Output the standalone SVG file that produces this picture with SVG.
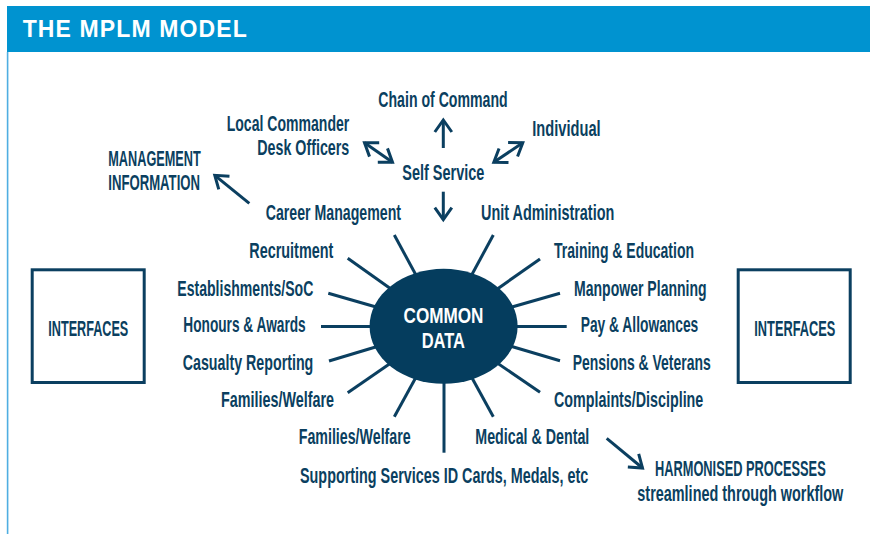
<svg xmlns="http://www.w3.org/2000/svg" width="870" height="534" viewBox="0 0 870 534">
<style>
.t{font-family:"Liberation Sans Narrow","Liberation Sans",Arial,sans-serif;font-weight:bold;font-size:21.5px;fill:#0B3F60}
.w{font-family:"Liberation Sans","Noto Sans",Arial,sans-serif;font-weight:bold;fill:#ffffff}
.ray{stroke:#0B3F60;stroke-width:3;fill:none}
.arr{stroke:#0B3F60;stroke-width:3;fill:none}
.box{fill:#ffffff;stroke:#0B3F60;stroke-width:3}
</style>
<defs>
<marker id="ah" viewBox="-16 -12 20 24" markerWidth="20" markerHeight="24" refX="0" refY="0" orient="auto-start-reverse" markerUnits="userSpaceOnUse">
<path d="M-12,-8.5 L0,0 L-12,8.5" fill="none" stroke="#0B3F60" stroke-width="3" stroke-linejoin="miter"/>
</marker>
</defs>
<rect x="0" y="0" width="870" height="534" fill="#ffffff"/>
<g id="header">
<rect x="7" y="6" width="863" height="46" fill="#0093D0"/>
<line x1="7.6" y1="52" x2="7.6" y2="534" stroke="#4FAEE2" stroke-width="1.6"/>
<text class="w" x="22.7" y="37.3" font-size="23" textLength="224" lengthAdjust="spacing">THE MPLM MODEL</text>
</g>
<g id="connectors">
<line class="ray" x1="394.3" y1="235" x2="443.8" y2="326.5"/>
<line class="ray" x1="347.7" y1="258.3" x2="443.8" y2="326.5"/>
<line class="ray" x1="328.3" y1="293.3" x2="443.8" y2="326.5"/>
<line class="ray" x1="321" y1="326.6" x2="443.8" y2="326.6"/>
<line class="ray" x1="329" y1="361" x2="443.8" y2="326.5"/>
<line class="ray" x1="347.7" y1="392.7" x2="443.8" y2="326.5"/>
<line class="ray" x1="394.3" y1="416.7" x2="443.8" y2="326.5"/>
<line class="ray" x1="444" y1="452.7" x2="444" y2="326.5"/>
<line class="ray" x1="493.3" y1="235" x2="443.8" y2="326.5"/>
<line class="ray" x1="540" y1="259" x2="443.8" y2="326.5"/>
<line class="ray" x1="560" y1="293.3" x2="443.8" y2="326.5"/>
<line class="ray" x1="566.7" y1="326.6" x2="443.8" y2="326.6"/>
<line class="ray" x1="560" y1="360.7" x2="443.8" y2="326.5"/>
<line class="ray" x1="540" y1="392.3" x2="443.8" y2="326.5"/>
<line class="ray" x1="493.3" y1="416.7" x2="443.8" y2="326.5"/>
<path class="arr" d="M443.3,148 L443.3,120" marker-end="url(#ah)"/>
<path class="arr" d="M443.3,191.7 L443.3,219.7" marker-end="url(#ah)"/>
<path class="arr" d="M364.5,142.8 L392.5,162.2" marker-start="url(#ah)" marker-end="url(#ah)"/>
<path class="arr" d="M493.8,162.2 L522.8,142.8" marker-start="url(#ah)" marker-end="url(#ah)"/>
<path class="arr" d="M249.3,203.3 L214.8,175.3" marker-end="url(#ah)"/>
<path class="arr" d="M606.7,438.3 L642.5,468" marker-end="url(#ah)"/>
</g>
<g id="common-data">
<ellipse cx="443.6" cy="326.3" rx="74" ry="57.5" fill="#053D5E"/>
<text class="w" x="443.5" y="323.3" font-size="22" text-anchor="middle" textLength="80" lengthAdjust="spacingAndGlyphs">COMMON</text>
<text class="w" x="443.3" y="348.3" font-size="22" text-anchor="middle" textLength="43.3" lengthAdjust="spacingAndGlyphs">DATA</text>
</g>
<g id="interfaces-left">
<rect class="box" x="32.2" y="269.8" width="112" height="112.7"/>
<text class="t" x="48.3" y="336" textLength="80" lengthAdjust="spacingAndGlyphs">INTERFACES</text>
</g>
<g id="interfaces-right">
<rect class="box" x="738.2" y="269.8" width="112" height="112.7"/>
<text class="t" x="754.3" y="336" textLength="81" lengthAdjust="spacingAndGlyphs">INTERFACES</text>
</g>
<g id="chain-of-command"><text class="t" x="378.3" y="106.5" textLength="129.4" lengthAdjust="spacingAndGlyphs">Chain of Command</text></g>
<g id="local-commander">
<text class="t" x="226.7" y="130.7" textLength="122.6" lengthAdjust="spacingAndGlyphs">Local Commander</text>
<text class="t" x="257.3" y="155" textLength="92" lengthAdjust="spacingAndGlyphs">Desk Officers</text>
</g>
<g id="self-service"><text class="t" x="402.3" y="180" textLength="82" lengthAdjust="spacingAndGlyphs">Self Service</text></g>
<g id="individual"><text class="t" x="532.3" y="136" textLength="68.4" lengthAdjust="spacingAndGlyphs">Individual</text></g>
<g id="management-information">
<text class="t" x="108.3" y="165.7" textLength="92.4" lengthAdjust="spacingAndGlyphs">MANAGEMENT</text>
<text class="t" x="108.3" y="190" textLength="91.7" lengthAdjust="spacingAndGlyphs">INFORMATION</text>
</g>
<g id="career-management"><text class="t" x="265.7" y="220" textLength="135.3" lengthAdjust="spacingAndGlyphs">Career Management</text></g>
<g id="unit-administration"><text class="t" x="481" y="220" textLength="133.3" lengthAdjust="spacingAndGlyphs">Unit Administration</text></g>
<g id="recruitment"><text class="t" x="249.3" y="258.3" textLength="84" lengthAdjust="spacingAndGlyphs">Recruitment</text></g>
<g id="training-education"><text class="t" x="554" y="258.3" textLength="140" lengthAdjust="spacingAndGlyphs">Training &amp; Education</text></g>
<g id="establishments"><text class="t" x="177.3" y="295.7" textLength="136" lengthAdjust="spacingAndGlyphs">Establishments/SoC</text></g>
<g id="manpower-planning"><text class="t" x="574" y="295.7" textLength="132.7" lengthAdjust="spacingAndGlyphs">Manpower Planning</text></g>
<g id="honours-awards"><text class="t" x="183.3" y="332.3" textLength="122.4" lengthAdjust="spacingAndGlyphs">Honours &amp; Awards</text></g>
<g id="pay-allowances"><text class="t" x="580.7" y="332.3" textLength="117.6" lengthAdjust="spacingAndGlyphs">Pay &amp; Allowances</text></g>
<g id="casualty-reporting"><text class="t" x="182.7" y="369.5" textLength="130.6" lengthAdjust="spacingAndGlyphs">Casualty Reporting</text></g>
<g id="pensions-veterans"><text class="t" x="572.7" y="369.5" textLength="138" lengthAdjust="spacingAndGlyphs">Pensions &amp; Veterans</text></g>
<g id="families-welfare-1"><text class="t" x="221" y="406.7" textLength="113" lengthAdjust="spacingAndGlyphs">Families/Welfare</text></g>
<g id="complaints-discipline"><text class="t" x="554" y="406.7" textLength="149.3" lengthAdjust="spacingAndGlyphs">Complaints/Discipline</text></g>
<g id="families-welfare-2"><text class="t" x="298.7" y="444" textLength="112" lengthAdjust="spacingAndGlyphs">Families/Welfare</text></g>
<g id="medical-dental"><text class="t" x="475.3" y="444" textLength="114" lengthAdjust="spacingAndGlyphs">Medical &amp; Dental</text></g>
<g id="supporting-services"><text class="t" x="300" y="483.3" textLength="288.3" lengthAdjust="spacingAndGlyphs">Supporting Services ID Cards, Medals, etc</text></g>
<g id="harmonised-processes">
<text class="t" x="655" y="476" textLength="170.7" lengthAdjust="spacingAndGlyphs">HARMONISED PROCESSES</text>
<text class="t" x="637.3" y="500.7" textLength="206" lengthAdjust="spacingAndGlyphs">streamlined through workflow</text>
</g>
</svg>
